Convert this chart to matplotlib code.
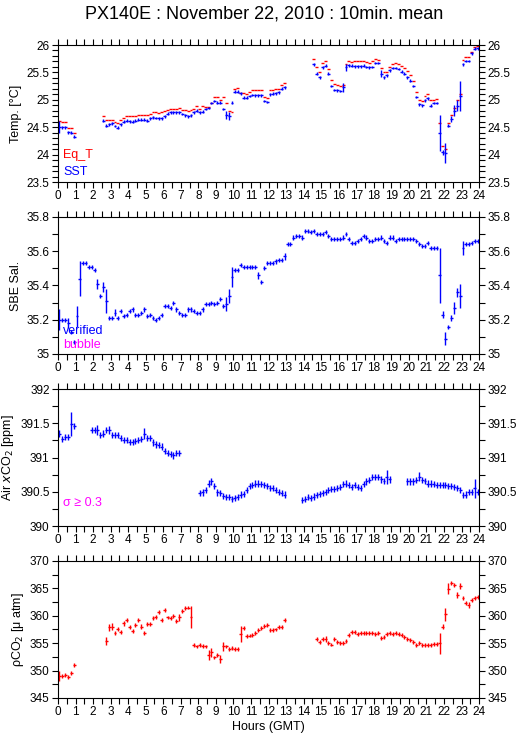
import numpy as np
import matplotlib
matplotlib.use('Agg')
import matplotlib.pyplot as plt
from matplotlib.ticker import MultipleLocator, FuncFormatter

plt.rcParams['font.family'] = ['Liberation Sans', 'DejaVu Sans']

nan = np.nan
# 10-min bin centres, 0..24 h
hours = np.arange(144) / 6.0 + 1.0 / 12.0

# one row per hour (6 x 10 min)
eq_t = [
    24.62, 24.59, 24.59, 24.48, 24.48, 24.40,
    nan, nan, nan, nan, nan, nan,
    nan, nan, nan, 24.70, 24.64, 24.64,
    24.64, 24.60, 24.58, 24.63, 24.67, 24.70,
    24.71, 24.70, 24.71, 24.72, 24.73, 24.73,
    24.72, 24.75, 24.77, 24.77, 24.76, 24.77,
    24.79, 24.82, 24.84, 24.84, 24.84, 24.85,
    24.82, 24.81, 24.79, 24.81, 24.84, 24.89,
    24.84, 24.88, 24.86, 24.87, 24.95, 25.05,
    25.05, 25.00, 25.05, 24.95, 24.80, 24.78,
    25.20, 25.22, 25.13, 25.12, 25.10, 25.15,
    25.18, 25.17, 25.17, 25.17, 25.05, 25.03,
    25.17, 25.18, 25.20, 25.20, 25.27, 25.31,
    nan, nan, nan, nan, nan, nan,
    nan, nan, nan, 25.75, 25.60, 25.50,
    25.67, 25.70, 25.56, 25.36, 25.29, 25.27,
    25.25, 25.27, 25.65, 25.71, 25.69, 25.70,
    25.70, 25.70, 25.70, 25.69, 25.67, 25.70,
    25.75, 25.73, 25.58, 25.50, 25.50, 25.60,
    25.65, 25.67, 25.65, 25.62, 25.58, 25.52,
    25.45, 25.35, 25.15, 25.00, 24.98, 25.07,
    25.10, 25.00, 25.00, 25.02, 24.57, 24.15,
    24.10, 24.57, 24.72, 24.85, 25.00, 25.10,
    25.72, 25.78, 25.78, 25.88, 25.97, 25.98,
]

sst = [
    24.51, 24.50, 24.50, 24.41, 24.40, 24.33,
    nan, nan, nan, nan, nan, nan,
    nan, nan, nan, 24.62, 24.53, 24.55,
    24.57, 24.52, 24.49, 24.55, 24.60, 24.62,
    24.61, 24.60, 24.62, 24.64, 24.64, 24.64,
    24.62, 24.66, 24.68, 24.67, 24.66, 24.66,
    24.70, 24.75, 24.77, 24.77, 24.77, 24.77,
    24.74, 24.72, 24.70, 24.72, 24.77, 24.80,
    24.77, 24.78, 24.83, 24.85, 24.94, 24.98,
    24.95, 24.95, 24.83, 24.72, 24.70, 24.95,
    25.15, 25.15, 25.12, 25.04, 25.04, 25.07,
    25.09, 25.08, 25.08, 25.08, 24.98, 24.96,
    25.10, 25.11, 25.12, 25.14, 25.20, 25.23,
    nan, nan, nan, nan, nan, nan,
    nan, nan, nan, 25.65, 25.48, 25.41,
    25.59, 25.62, 25.48, 25.25, 25.18, 25.17,
    25.16, 25.23, 25.59, 25.63, 25.62, 25.61,
    25.61, 25.61, 25.62, 25.60, 25.59, 25.60,
    25.67, 25.67, 25.48, 25.41, 25.45, 25.54,
    25.58, 25.58, 25.56, 25.51, 25.48, 25.41,
    25.35, 25.25, 25.05, 24.92, 24.90, 24.99,
    25.03, 24.89, 24.94, 24.94, 24.40, 24.04,
    24.03, 24.53, 24.65, 24.80, 24.89, 25.07,
    25.65, 25.71, 25.71, 25.85, 25.93, 25.94,
]
sst_err = {0: 0.11, 57: 0.07, 58: 0.07, 97: 0.08, 98: 0.06, 110: 0.07,
           130: 0.33, 131: 0.05, 132: 0.18, 134: 0.05, 135: 0.1, 136: 0.1, 137: 0.27}

sal = [
    35.20, 35.20, 35.20, 35.18, 35.13, 35.07,
    35.22, 35.44, 35.53, 35.53, 35.51, 35.51,
    35.49, 35.41, 35.34, 35.39, 35.31, 35.21,
    35.21, 35.24, 35.21, 35.25, 35.22, 35.23,
    35.25, 35.26, 35.23, 35.23, 35.24, 35.26,
    35.22, 35.23, 35.21, 35.20, 35.21, 35.23,
    35.28, 35.28, 35.27, 35.30, 35.26, 35.24,
    35.23, 35.23, 35.26, 35.26, 35.25, 35.24,
    35.24, 35.26, 35.29, 35.29, 35.30, 35.29,
    35.30, 35.32, 35.28, 35.29, 35.34, 35.45,
    35.49, 35.49, 35.52, 35.51, 35.51, 35.51,
    35.51, 35.51, 35.46, 35.42, 35.50, 35.53,
    35.53, 35.53, 35.54, 35.55, 35.55, 35.57,
    35.64, 35.64, 35.68, 35.69, 35.69, 35.68,
    35.72, 35.72, 35.71, 35.72, 35.70, 35.70,
    35.70, 35.71, 35.69, 35.67, 35.67, 35.67,
    35.67, 35.68, 35.70, 35.67, 35.65, 35.65,
    35.66, 35.67, 35.69, 35.68, 35.66, 35.66,
    35.67, 35.67, 35.68, 35.66, 35.65, 35.68,
    35.68, 35.66, 35.67, 35.67, 35.67, 35.67,
    35.67, 35.67, 35.66, 35.64, 35.63, 35.63,
    35.65, 35.62, 35.62, 35.62, 35.46, 35.23,
    35.09, 35.16, 35.21, 35.27, 35.36, 35.34,
    35.62, 35.64, 35.64, 35.65, 35.66, 35.66,
]
sal_err = {0: 0.06, 3: 0.03, 6: 0.06, 7: 0.1, 13: 0.03, 15: 0.03, 16: 0.07,
           19: 0.02, 57: 0.04, 58: 0.04, 59: 0.06, 68: 0.02, 77: 0.02,
           130: 0.16, 131: 0.02, 132: 0.04, 134: 0.02, 135: 0.035,
           136: 0.025, 137: 0.07, 138: 0.04}

xco2 = [
    391.35, 391.27, 391.30, 391.30, 391.49, 391.46,
    nan, nan, nan, nan, nan, 391.40,
    391.40, 391.40, 391.33, 391.35, 391.40, 391.40,
    391.33, 391.33, 391.33, 391.28, 391.26, 391.25,
    391.23, 391.23, 391.24, 391.26, 391.27, 391.35,
    391.28, 391.28, 391.22, 391.19, 391.18, 391.16,
    391.09, 391.07, 391.05, 391.03, 391.06, 391.07,
    nan, nan, nan, nan, nan, nan,
    390.48, 390.49, 390.53, 390.62, 390.65, 390.59,
    390.49, 390.48, 390.44, 390.42, 390.42, 390.39,
    390.41, 390.42, 390.46, 390.47, 390.53, 390.58,
    390.60, 390.62, 390.62, 390.61, 390.60, 390.58,
    390.56, 390.55, 390.53, 390.50, 390.48, 390.46,
    nan, nan, nan, nan, nan, 390.38,
    390.40, 390.42, 390.41, 390.43, 390.45, 390.47,
    390.48, 390.50, 390.52, 390.54, 390.54, 390.55,
    390.57, 390.61, 390.62, 390.60, 390.57, 390.60,
    390.57, 390.56, 390.61, 390.65, 390.67, 390.71,
    390.72, 390.71, 390.68, 390.66, 390.72, 390.68,
    nan, nan, nan, nan, nan, 390.65,
    390.65, 390.65, 390.67, 390.72, 390.67, 390.66,
    390.62, 390.62, 390.61, 390.60, 390.60, 390.60,
    390.60, 390.59, 390.58, 390.57, 390.55, 390.52,
    390.45, 390.46, 390.50, 390.50, 390.55, 390.50,
]
xco2_err = {4: 0.18, 13: 0.07, 17: 0.06, 29: 0.08, 112: 0.1, 123: 0.07, 142: 0.14}

pco2 = [
    349.0, 349.0, 349.2, 348.8, 349.6, 351.0,
    nan, nan, nan, nan, nan, nan,
    nan, nan, nan, nan, 355.35, 357.9,
    358.0, 356.8, 357.6, 357.0, 358.6, 359.2,
    357.9, 357.2, 358.3, 359.2, 358.0, 356.8,
    358.5, 358.5, 359.6, 359.8, 360.7, 359.3,
    361.0, 359.7, 359.6, 359.9, 359.0, 359.7,
    360.8, 361.4, 361.5, 359.7, 354.6, 354.4,
    354.7, 354.5, 354.4, 352.9, 353.3, 352.4,
    352.8, 352.1, 354.4, 354.4, 353.9, 354.1,
    353.9, 353.9, 356.7, 357.8, 356.3, 356.4,
    356.5, 356.9, 357.4, 357.7, 358.1, 358.3,
    357.4, 357.4, 357.5, 358.0, 358.0, 359.2,
    nan, nan, nan, nan, nan, nan,
    nan, nan, nan, nan, 355.8, 355.2,
    355.8, 355.8, 355.0, 354.75, 355.8, 355.2,
    355.1, 355.0, 355.4, 356.45, 357.05, 357.05,
    356.75, 356.8, 356.8, 356.8, 356.9, 356.8,
    356.75, 356.8, 355.9, 356.1, 356.6, 356.9,
    356.75, 356.9, 356.7, 356.45, 356.2, 355.7,
    355.65, 355.25, 354.65, 355.05, 354.65, 354.65,
    354.65, 354.7, 354.8, 354.85, 355.0, 358.0,
    360.3, 364.9, 366.0, 365.6, 363.8, 365.4,
    363.2, 362.3, 362.0, 362.9, 363.2, 363.4,
]
pco2_err = {0: 0.9, 16: 0.7, 17: 0.6, 18: 0.6, 22: 0.5, 28: 0.5, 41: 0.6,
            45: 2.0, 51: 0.9, 52: 0.9, 55: 0.8, 56: 0.9, 62: 1.4, 91: 0.6,
            130: 1.9, 131: 0.5, 132: 1.2, 133: 1.0, 134: 0.4, 136: 0.6,
            137: 0.5, 140: 0.5}

BLUE = '#0000ff'
RED = '#ff0000'
MAGENTA = '#ff00ff'


def draw(ax, vals, color, base_err=None, big_err=None):
    y = np.array(vals, dtype=float)
    e = None
    if base_err is not None:
        e = np.full(len(y), base_err)
        for k, v in big_err.items():
            e[k] = v
    ax.errorbar(hours, y, xerr=1.0 / 12, yerr=e, fmt='none', ecolor=color,
                elinewidth=1.0, capsize=0)


def style(ax, ylim, major, minor, ylabel):
    ax.set_xlim(0, 24)
    ax.set_ylim(*ylim)
    ax.xaxis.set_major_locator(MultipleLocator(1))
    ax.xaxis.set_minor_locator(MultipleLocator(0.5))
    ax.yaxis.set_major_locator(MultipleLocator(major))
    ax.yaxis.set_minor_locator(MultipleLocator(minor))
    ax.yaxis.set_major_formatter(FuncFormatter(lambda v, p: '%g' % v))
    ax.tick_params(which='both', direction='out', top=True, right=True,
                   labelright=True, labelsize=8.5, width=0.8, pad=2)
    ax.tick_params(which='major', length=4)
    ax.tick_params(which='minor', length=4)
    for s in ax.spines.values():
        s.set_linewidth(0.8)
    ax.set_ylabel(ylabel, fontsize=9, labelpad=3)


fig = plt.figure(figsize=(5.29, 7.39), dpi=100)
L, W, H = 0.1096, 0.796, 0.1854
ax1 = fig.add_axes([L, 0.7537, W, H])
ax2 = fig.add_axes([L, 0.5210, W, H])
ax3 = fig.add_axes([L, 0.2882, W, H])
ax4 = fig.add_axes([L, 0.0555, W, H])

fig.suptitle('PX140E : November 22, 2010 : 10min. mean', fontsize=13, y=0.993)

# temperature
draw(ax1, eq_t, RED)
draw(ax1, sst, BLUE, 0.025, sst_err)
style(ax1, (23.5, 26), 0.5, 0.1, 'Temp. [°C]')
ax1.text(0.012, 0.2, 'Eq_T', color=RED, fontsize=9, transform=ax1.transAxes, va='center')
ax1.text(0.012, 0.075, 'SST', color=BLUE, fontsize=9, transform=ax1.transAxes, va='center')

# salinity
draw(ax2, sal, BLUE, 0.012, sal_err)
style(ax2, (35, 35.8), 0.2, 0.1, 'SBE Sal.')
ax2.text(0.012, 0.165, 'verified', color=BLUE, fontsize=9, transform=ax2.transAxes, va='center')
ax2.text(0.012, 0.065, 'bubble', color=MAGENTA, fontsize=9, transform=ax2.transAxes, va='center')

# air xCO2
draw(ax3, xco2, BLUE, 0.045, xco2_err)
style(ax3, (390, 392), 0.5, 0.25, 'Air $x$CO$_2$ [ppm]')
ax3.text(0.012, 0.165, 'σ ≥ 0.3', color=MAGENTA, fontsize=9, transform=ax3.transAxes, va='center')

# pCO2
draw(ax4, pco2, RED, 0.35, pco2_err)
style(ax4, (345, 370), 5, 2.5, 'ρCO$_2$ [μ atm]')
ax4.set_xlabel('Hours (GMT)', fontsize=9, labelpad=2)

fig.savefig('out.png', dpi=100)
